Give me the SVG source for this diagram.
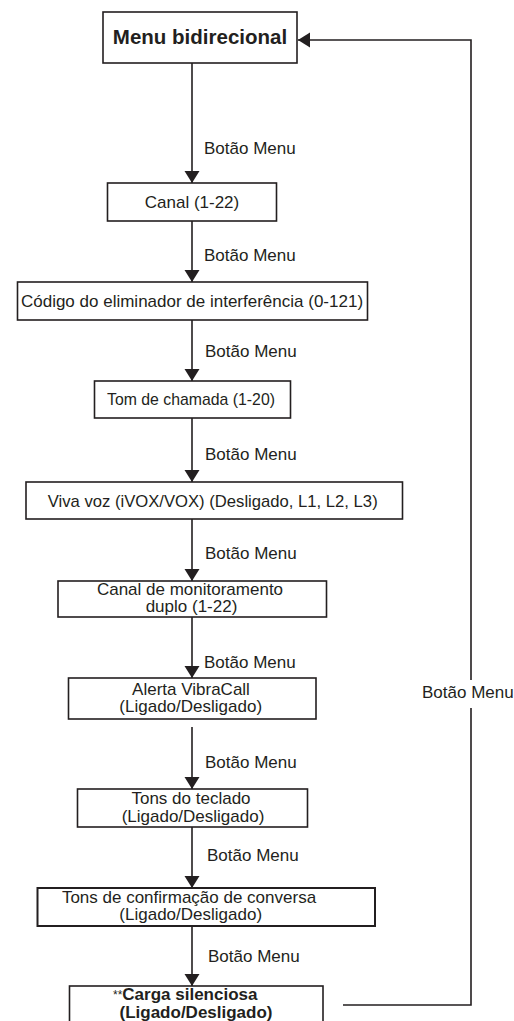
<svg xmlns="http://www.w3.org/2000/svg" width="514" height="1021" viewBox="0 0 514 1021">
<style>
.box{fill:#fff;stroke:#231f20;stroke-width:1.6}
.t{font-family:"Liberation Sans",Arial,sans-serif;font-size:17px;fill:#231f20;text-anchor:middle}
.lbl{font-family:"Liberation Sans",Arial,sans-serif;font-size:17px;fill:#231f20}
.b{font-weight:bold}
.ln{fill:none;stroke:#231f20;stroke-width:1.6}
</style>
<defs>
<marker id="ah" markerUnits="userSpaceOnUse" markerWidth="14" markerHeight="16" refX="12" refY="7.5" orient="auto">
<path d="M0,0 L12,7.5 L0,15 z" fill="#231f20"/>
</marker>
</defs>
<rect width="514" height="1021" fill="#fff"/>
<g id="connectors">
<line class="ln" x1="192" y1="63" x2="192" y2="183" marker-end="url(#ah)"/>
<line class="ln" x1="192" y1="221" x2="192" y2="282" marker-end="url(#ah)"/>
<line class="ln" x1="192" y1="320" x2="192" y2="381" marker-end="url(#ah)"/>
<line class="ln" x1="192" y1="418" x2="192" y2="482" marker-end="url(#ah)"/>
<line class="ln" x1="192" y1="519" x2="192" y2="581" marker-end="url(#ah)"/>
<line class="ln" x1="192" y1="617" x2="192" y2="678" marker-end="url(#ah)"/>
<line class="ln" x1="192" y1="727" x2="192" y2="789" marker-end="url(#ah)"/>
<line class="ln" x1="192" y1="827" x2="192" y2="888" marker-end="url(#ah)"/>
<line class="ln" x1="192" y1="926" x2="192" y2="986" marker-end="url(#ah)"/>
<polyline class="ln" points="343,1005 471,1005 471,708"/>
<polyline class="ln" points="471,680 471,40 298,40" marker-end="url(#ah)"/>
<text class="lbl" x="204" y="154">Botão Menu</text>
<text class="lbl" x="204" y="261">Botão Menu</text>
<text class="lbl" x="205" y="357">Botão Menu</text>
<text class="lbl" x="205" y="460">Botão Menu</text>
<text class="lbl" x="205" y="559">Botão Menu</text>
<text class="lbl" x="204" y="668">Botão Menu</text>
<text class="lbl" x="205" y="768">Botão Menu</text>
<text class="lbl" x="207" y="861">Botão Menu</text>
<text class="lbl" x="208" y="962">Botão Menu</text>
<text class="lbl" x="422" y="698">Botão Menu</text>
</g>
<g id="menu">
<rect class="box" x="103" y="12" width="194" height="51"/>
<text class="t b" x="200" y="44" style="font-size:20.5px">Menu bidirecional</text>
</g>
<g id="canal">
<rect class="box" x="107.5" y="183" width="169" height="38"/>
<text class="t" x="192" y="208">Canal (1-22)</text>
</g>
<g id="codigo">
<rect class="box" x="17.5" y="282" width="350" height="38"/>
<text class="t" x="192" y="307">Código do eliminador de interferência (0-121)</text>
</g>
<g id="tom">
<rect class="box" x="94.5" y="381" width="196" height="37"/>
<text class="t" x="191" y="405" textLength="168" lengthAdjust="spacingAndGlyphs">Tom de chamada (1-20)</text>
</g>
<g id="vivavoz">
<rect class="box" x="26" y="482" width="376.5" height="37"/>
<text class="t" x="212.7" y="506.5" textLength="330" lengthAdjust="spacingAndGlyphs">Viva voz (iVOX/VOX) (Desligado, L1, L2, L3)</text>
</g>
<g id="monitoramento">
<rect class="box" x="58" y="581" width="268.5" height="36"/>
<text class="t" x="190" y="594.5">Canal de monitoramento</text>
<text class="t" x="191.5" y="612">duplo (1-22)</text>
</g>
<g id="vibracall">
<rect class="box" x="68.5" y="678" width="247.5" height="41"/>
<text class="t" x="191" y="694.5">Alerta VibraCall</text>
<text class="t" x="190.7" y="711.5">(Ligado/Desligado)</text>
</g>
<g id="teclado">
<rect class="box" x="77.5" y="789" width="230" height="38"/>
<text class="t" x="191" y="803.5">Tons do teclado</text>
<text class="t" x="193" y="821.5">(Ligado/Desligado)</text>
</g>
<g id="confirmacao">
<rect class="box" x="37.5" y="888" width="337.5" height="38" style="stroke-width:2"/>
<text class="t" x="189" y="903">Tons de confirmação de conversa</text>
<text class="t" x="190.7" y="920">(Ligado/Desligado)</text>
</g>
<g id="carga">
<rect class="box" x="69.5" y="986" width="253.5" height="45"/>
<text class="lbl" x="113" y="1000"><tspan style="font-size:12px" dy="-1">**</tspan><tspan class="b" dy="1">Carga silenciosa</tspan></text>
<text class="t b" x="196" y="1017.5">(Ligado/Desligado)</text>
</g>
</svg>
